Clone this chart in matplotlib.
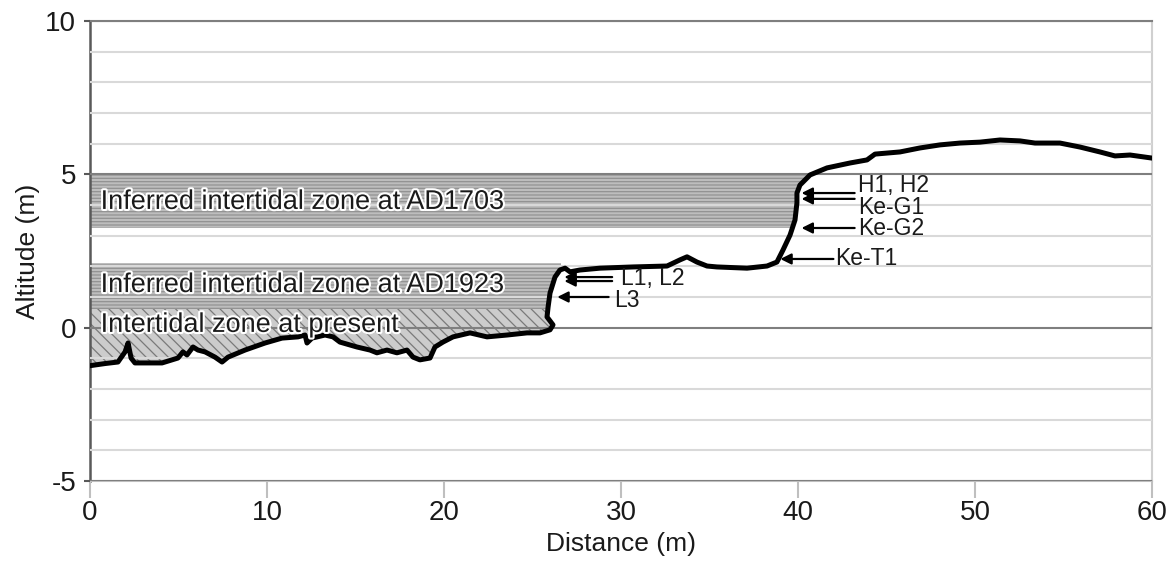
import matplotlib
matplotlib.use("Agg")
import matplotlib.pyplot as plt
import matplotlib.patheffects as pe
from matplotlib.patches import Polygon
from matplotlib.ticker import MultipleLocator

plt.rcParams['font.family'] = ['Liberation Sans', 'DejaVu Sans']
plt.rcParams['hatch.linewidth'] = 0.9
plt.rcParams['axes.unicode_minus'] = False

profile_x = [0.0, 0.85, 1.58, 1.98, 2.15, 2.32, 2.54, 4.07, 4.97, 5.25, 5.48, 5.82, 6.10,
             6.50, 7.06, 7.46, 7.80, 8.76, 9.89, 10.85, 11.75, 12.15, 12.26, 12.54, 13.28,
             13.73, 14.12, 15.08, 15.82, 16.21, 16.78, 17.34, 17.91, 18.25, 18.64, 19.21,
             19.49, 19.94, 20.51, 21.47, 22.43, 23.56, 24.69, 25.42, 25.99, 26.16, 25.82,
             25.88, 25.99, 26.27, 26.55, 26.84, 27.12, 27.68, 28.81, 30.68, 32.60, 33.33,
             33.73, 34.29, 34.86, 35.42, 37.12, 38.25, 38.81, 39.15, 39.55, 39.83, 39.94,
             39.94, 40.11, 40.68, 41.64, 42.94, 43.90, 44.35, 45.76, 46.89, 48.02, 49.15,
             50.28, 51.41, 52.54, 53.39, 54.80, 55.93, 57.06, 57.91, 58.76, 60.0]
profile_y = [-1.24, -1.17, -1.12, -0.79, -0.50, -0.99, -1.15, -1.15, -0.99, -0.79, -0.89,
             -0.63, -0.73, -0.79, -0.96, -1.12, -0.96, -0.73, -0.50, -0.34, -0.30, -0.24,
             -0.50, -0.34, -0.24, -0.30, -0.47, -0.63, -0.73, -0.82, -0.73, -0.82, -0.73,
             -0.96, -1.05, -0.99, -0.63, -0.47, -0.30, -0.17, -0.30, -0.24, -0.17, -0.17,
             -0.07, 0.09, 0.35, 0.67, 1.13, 1.65, 1.88, 1.94, 1.82, 1.88, 1.94, 1.98, 2.01,
             2.21, 2.31, 2.14, 2.01, 1.98, 1.94, 2.01, 2.14, 2.53, 3.02, 3.51, 4.07, 4.39,
             4.65, 4.98, 5.21, 5.37, 5.47, 5.66, 5.73, 5.86, 5.96, 6.02, 6.05, 6.12, 6.09,
             6.02, 6.02, 5.89, 5.73, 5.60, 5.63, 5.53]

# zones: (x end, lower, upper)
zone_1703 = (41.0, 3.25, 5.0)
zone_1923 = (26.6, 0.6, 2.1)
zone_present = (26.3, -1.5, 0.6)

# sample labels: (label, arrow tip x, arrow y, tail x, text x, text y)
samples = [
    ("H1, H2", 40.2, 4.39, 43.2, 43.4, 4.62),
    ("Ke-G1", 40.2, 4.20, 43.2, 43.4, 3.93),
    ("Ke-G2", 40.2, 3.25, 43.2, 43.4, 3.23),
    ("Ke-T1", 39.0, 2.24, 42.0, 42.1, 2.24),
    ("L1, L2", 26.8, 1.65, 29.5, 30.0, 1.60),
    ("", 26.8, 1.52, 29.5, 30.0, 1.60),
    ("L3", 26.4, 1.00, 29.3, 29.6, 0.88),
]

fig = plt.figure(figsize=(11.74, 5.70), dpi=100)
ax = fig.add_axes([90 / 1174, 1 - 481 / 570, (1152 - 90) / 1174, (481 - 21) / 570])

# area above the profile, used to clip the zone fills
above = Polygon(list(zip(profile_x, profile_y)) + [(60, 10.5), (0, 10.5)],
                closed=True, transform=ax.transData)

z = ax.fill_between([0, zone_1703[0]], zone_1703[1], zone_1703[2], facecolor='#bdbdbd',
                    edgecolor='#929292', hatch='-----', linewidth=0, zorder=1)
z.set_clip_path(above)
z = ax.fill_between([0, zone_1923[0]], zone_1923[1], zone_1923[2], facecolor='#bdbdbd',
                    edgecolor='#929292', hatch='-----', linewidth=0, zorder=1)
z.set_clip_path(above)
z = ax.fill_between([0, zone_present[0]], zone_present[1], zone_present[2], facecolor='#cccccc',
                    edgecolor='#7a7a7a', hatch='\\\\\\', linewidth=0, zorder=1)
z.set_clip_path(above)

ax.plot(profile_x, profile_y, color='black', lw=3.6, solid_joinstyle='round', zorder=4)

halo = [pe.withStroke(linewidth=3, foreground='white')]
ax.text(0.6, 4.1, "Inferred intertidal zone at AD1703", fontsize=19.5, color='#1a1a1a',
        va='center', path_effects=halo, zorder=5)
ax.text(0.6, 1.39, "Inferred intertidal zone at AD1923", fontsize=19.5, color='#1a1a1a',
        va='center', path_effects=halo, zorder=5)
ax.text(0.6, 0.09, "Intertidal zone at present", fontsize=19.5, color='#1a1a1a',
        va='center', path_effects=halo, zorder=5)

for label, tip_x, arr_y, tail_x, tx, ty in samples:
    ax.annotate("", xy=(tip_x, arr_y), xytext=(tail_x, arr_y),
                arrowprops=dict(arrowstyle='-|>', color='black', lw=1.6,
                                mutation_scale=16, shrinkA=0, shrinkB=0), zorder=5)
    if label:
        ax.text(tx, ty, label, fontsize=16.5, color='#1a1a1a', va='center', zorder=5)

ax.set_xlim(0, 60)
ax.set_ylim(-5, 10)
ax.xaxis.set_major_locator(MultipleLocator(10))
ax.yaxis.set_major_locator(MultipleLocator(5))
ax.yaxis.set_minor_locator(MultipleLocator(1))

ax.set_axisbelow(False)
ax.grid(axis='y', which='minor', color='#d9d9d9', lw=1.5)
ax.grid(axis='y', which='major', color='#7f7f7f', lw=1.5)
ax.grid(axis='x', visible=False)

ax.spines['left'].set_color('#595959')
ax.spines['left'].set_linewidth(1.8)
ax.spines['top'].set_color('#7f7f7f')
ax.spines['top'].set_linewidth(1.5)
ax.spines['bottom'].set_color('#bfbfbf')
ax.spines['bottom'].set_linewidth(1.5)
ax.spines['right'].set_color('#d0d0d0')
ax.spines['right'].set_linewidth(1.5)

ax.tick_params(axis='x', direction='out', length=12, width=1.5, color='#bfbfbf',
               labelsize=20, pad=2, labelcolor='#1a1a1a')
ax.tick_params(axis='y', which='major', direction='out', length=4, width=1.5,
               color='#595959', labelsize=20, pad=6, labelcolor='#1a1a1a')
ax.tick_params(axis='y', which='minor', length=0)

ax.set_xlabel("Distance (m)", fontsize=19, color='#1a1a1a', labelpad=4)
ax.set_ylabel("Altitude (m)", fontsize=19, color='#1a1a1a', labelpad=4)

fig.savefig("out.png", dpi=100)
